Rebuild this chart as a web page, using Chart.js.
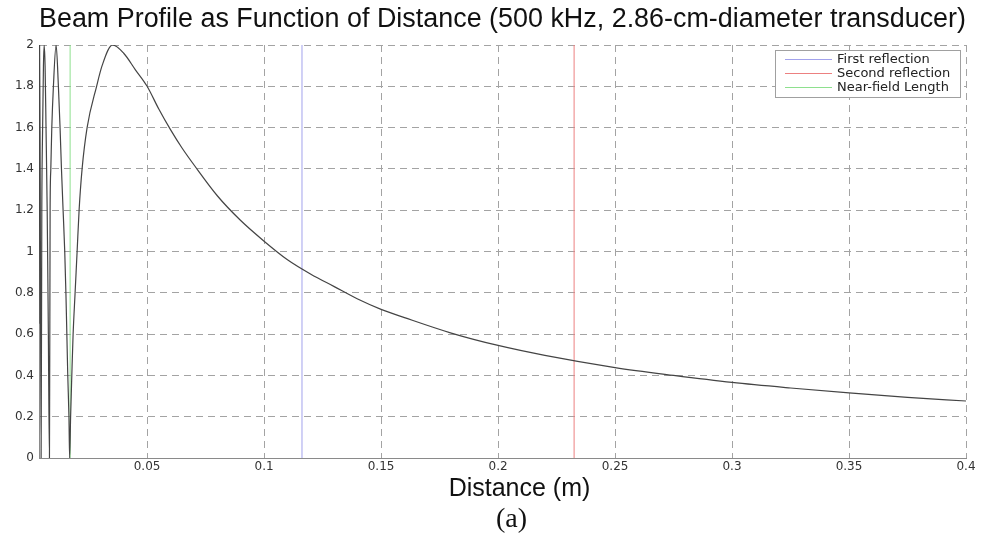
<!DOCTYPE html>
<html>
<head>
<meta charset="utf-8">
<title>Beam Profile as Function of Distance</title>
<script src="https://cdn.jsdelivr.net/npm/chart.js@4.4.0/dist/chart.umd.min.js"></script>
<style>
  html, body { margin: 0; padding: 0; background: #fff; }
  #wrap { width: 981px; height: 550px; position: relative; }
</style>
</head>
<body>
<div id="wrap"><canvas id="beamChart"></canvas></div>
<script>
// distance (m) and relative pressure
const distance = [
  0.0038, 0.0039, 0.00405, 0.0043, 0.0047,
  0.005, 0.00535, 0.0057, 0.006, 0.0064, 0.0068, 0.0073, 0.0078, 0.00827,
  0.00855, 0.00885, 0.00927, 0.00996, 0.01111, 0.01209, 0.0128, 0.0134,
  0.0141, 0.0148, 0.0153, 0.0157, 0.0161, 0.0166, 0.0169,
  0.01731, 0.01782, 0.01838, 0.01923, 0.02009, 0.02094, 0.02222, 0.02436,
  0.02842, 0.03077, 0.0352, 0.04, 0.045, 0.05, 0.055, 0.06, 0.065, 0.07,
  0.08, 0.09, 0.1, 0.11, 0.12, 0.13, 0.14, 0.15, 0.16, 0.18, 0.2, 0.22,
  0.25, 0.275, 0.3, 0.325, 0.35, 0.375, 0.4
];
const pressure = [
  0.65, 1.6, 2.0, 1.4, 0.0,
  1.2, 1.6, 1.9, 2.0, 1.9, 1.6, 1.2, 0.6, 0.0,
  1.2, 1.4, 1.6, 1.8, 2.0, 1.8, 1.6, 1.4,
  1.2, 1.0, 0.8, 0.6, 0.4, 0.2, 0.0,
  0.2, 0.4, 0.6, 0.8, 1.0, 1.2, 1.4, 1.6,
  1.8, 1.9, 2.0, 1.96, 1.88, 1.8, 1.69, 1.59, 1.5, 1.42,
  1.27, 1.15, 1.05, 0.96, 0.89, 0.83, 0.77, 0.72, 0.68, 0.605, 0.545, 0.497,
  0.438, 0.4, 0.366, 0.339, 0.315, 0.294, 0.276
];

// vertical marker lines
const markerNames = ["First reflection", "Second reflection", "Near-field Length"];
const markerDist = [0.1162, 0.2325, 0.0171];

// axes
const xTicks = [0.05, 0.1, 0.15, 0.2, 0.25, 0.3, 0.35, 0.4];
const yTicks = [0, 0.2, 0.4, 0.6, 0.8, 1, 1.2, 1.4, 1.6, 1.8, 2];
const xRange = [0.0038, 0.4];

const titleText = "Beam Profile as Function of Distance (500 kHz, 2.86-cm-diameter transducer)";
const xLabel = "Distance (m)";
const caption = "(a)";

const markerColors = ["#a2a2ec", "#ec8080", "#8ee08e"];
const sansFont = "'Liberation Sans', Arial, sans-serif";
const serifFont = "'Liberation Serif', 'Times New Roman', serif";
const tickFont = "'DejaVu Sans', Verdana, sans-serif";

// legend drawn inside the plot, top right
const insideLegend = {
  id: "insideLegend",
  afterDatasetsDraw(chart) {
    const { ctx, chartArea } = chart;
    const items = chart.data.datasets.filter((d) => d.inLegend);
    const w = 185, rowH = 14;
    const h = items.length * rowH + 5;
    const x0 = chartArea.right - w - 6;
    const y0 = chartArea.top + 5;
    ctx.save();
    ctx.fillStyle = "#fff";
    ctx.fillRect(x0, y0, w, h);
    ctx.strokeStyle = "#a0a0a0";
    ctx.lineWidth = 1;
    ctx.strokeRect(x0 + 0.5, y0 + 0.5, w, h);
    ctx.font = "13px " + tickFont;
    ctx.textBaseline = "middle";
    items.forEach((d, i) => {
      const cy = Math.round(y0 + 9 + i * rowH) + 0.5;
      ctx.strokeStyle = d.borderColor;
      ctx.beginPath();
      ctx.moveTo(x0 + 10, cy);
      ctx.lineTo(x0 + 57, cy);
      ctx.stroke();
      ctx.fillStyle = "#222";
      ctx.fillText(d.label, x0 + 62, cy);
    });
    ctx.restore();
  },
};

// axis label and caption sit a little right of the plot centre in the original
const bottomTexts = {
  id: "bottomTexts",
  afterDraw(chart) {
    const { ctx, chartArea } = chart;
    const cx = (chartArea.left + chartArea.right) / 2;
    ctx.save();
    ctx.fillStyle = "#111";
    ctx.textAlign = "center";
    ctx.textBaseline = "middle";
    ctx.font = "25px " + sansFont;
    ctx.fillText(xLabel, cx + 17, chartArea.bottom + 31);
    ctx.font = "28px " + serifFont;
    ctx.fillText(caption, cx + 9, chartArea.bottom + 62);
    ctx.restore();
  },
};

const curve = {
  label: "Beam profile",
  data: distance.map((x, i) => ({ x, y: pressure[i] })),
  borderColor: "#444",
  borderWidth: 1.2,
  pointRadius: 0,
  cubicInterpolationMode: "monotone",
  inLegend: false,
  order: 0,
};

const markers = markerNames.map((name, i) => ({
  label: name,
  data: [
    { x: markerDist[i], y: yTicks[0] },
    { x: markerDist[i], y: yTicks[yTicks.length - 1] },
  ],
  borderColor: markerColors[i],
  borderWidth: 1,
  pointRadius: 0,
  inLegend: true,
  order: 1,
}));

const gridOpts = { color: "#a3a3a3", lineWidth: 1, drawTicks: false };
const borderOpts = { display: true, color: "#8a8a8a", width: 1, dash: [7, 5] };

new Chart(document.getElementById("beamChart"), {
  type: "line",
  data: { datasets: [curve, ...markers] },
  plugins: [insideLegend, bottomTexts],
  options: {
    responsive: true,
    maintainAspectRatio: false,
    animation: false,
    layout: { padding: { left: 0, right: 15, top: 0, bottom: 44 } },
    plugins: {
      legend: { display: false },
      tooltip: { enabled: false },
      title: {
        display: true,
        fullSize: false,
        text: titleText,
        color: "#111",
        font: { family: sansFont, size: 27, weight: "normal", lineHeight: 1.2 },
        padding: { top: 3, bottom: 9.6 },
      },
    },
    scales: {
      x: {
        type: "linear",
        min: xRange[0],
        max: xRange[1],
        afterBuildTicks: (s) => { s.ticks = xTicks.map((v) => ({ value: v })); },
        afterFit: (s) => { s.height = 48; },
        ticks: {
          color: "#333",
          font: { family: tickFont, size: 12 },
          padding: 2,
          maxRotation: 0,
          autoSkip: false,
          callback: (v) => String(v),
        },
        grid: gridOpts,
        border: borderOpts,
      },
      y: {
        min: yTicks[0],
        max: yTicks[yTicks.length - 1],
        afterBuildTicks: (s) => { s.ticks = yTicks.map((v) => ({ value: v })); },
        afterFit: (s) => { s.width = 39; },
        ticks: {
          color: "#333",
          font: { family: tickFont, size: 12 },
          padding: 5,
          callback: (v) => String(v),
        },
        grid: gridOpts,
        border: borderOpts,
      },
    },
  },
});
</script>
</body>
</html>
